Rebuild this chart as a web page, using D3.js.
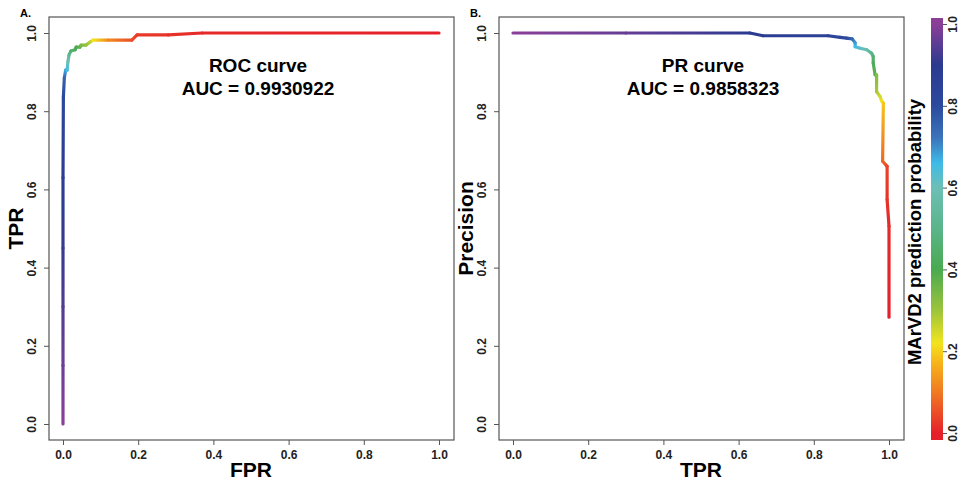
<!DOCTYPE html>
<html>
<head>
<meta charset="utf-8">
<script src="https://cdn.jsdelivr.net/npm/d3@7"></script>
<style>
  body { margin: 0; background: #fff; }
  svg { display: block; font-family: "Liberation Sans", Arial, sans-serif; }
  .tick text { font-weight: bold; font-size: 12px; fill: #222; }
</style>
</head>
<body>
<svg id="chart" width="964" height="482"></svg>
<script>
// ROC curve (FPR, TPR, threshold)
const rocFpr = [0, 0, 0, 0, 0, 0.001, 0.0035, 0.007, 0.011, 0.013, 0.016, 0.021, 0.032, 0.035, 0.045, 0.048, 0.061, 0.072, 0.080, 0.120, 0.183, 0.197, 0.280, 0.370, 1.0];
const rocTpr = [0, 0.15, 0.30, 0.45, 0.63, 0.836, 0.885, 0.905, 0.905, 0.926, 0.944, 0.954, 0.957, 0.964, 0.964, 0.969, 0.969, 0.977, 0.982, 0.982, 0.982, 0.995, 0.995, 1.0, 1.0];
const rocThr = [1.0, 0.97, 0.94, 0.91, 0.88, 0.82, 0.75, 0.68, 0.65, 0.60, 0.52, 0.46, 0.43, 0.40, 0.37, 0.34, 0.31, 0.27, 0.22, 0.12, 0.05, 0.03, 0.02, 0.01, 0.0];

// PR curve (recall, precision, threshold)
const prRecall = [0, 0.30, 0.630, 0.665, 0.838, 0.870, 0.887, 0.902, 0.910, 0.910, 0.923, 0.941, 0.954, 0.958, 0.958, 0.963, 0.967, 0.967, 0.976, 0.981, 0.985, 0.983, 0.995, 0.995, 1.0, 1.0];
const prPrecision = [1.0, 1.0, 1.0, 0.993, 0.993, 0.989, 0.987, 0.985, 0.975, 0.965, 0.961, 0.957, 0.948, 0.940, 0.923, 0.893, 0.893, 0.850, 0.838, 0.825, 0.821, 0.672, 0.659, 0.574, 0.506, 0.273];
const prThr = [1.0, 0.96, 0.90, 0.88, 0.85, 0.82, 0.80, 0.75, 0.69, 0.66, 0.62, 0.58, 0.50, 0.46, 0.42, 0.38, 0.33, 0.29, 0.25, 0.22, 0.19, 0.08, 0.04, 0.02, 0.01, 0.0];

const ticks = [0, 0.2, 0.4, 0.6, 0.8, 1.0];
const rocTitle = ["ROC curve", "AUC = 0.9930922"];
const prTitle = ["PR curve", "AUC = 0.9858323"];

// rainbow palette of the colour bar
const paletteStops = [0, 0.1, 0.17, 0.22, 0.3, 0.4, 0.5, 0.6, 0.66, 0.72, 0.8, 0.9, 1.0];
const paletteColors = ["#e5202a", "#f07a22", "#f7b21a", "#f2e41e", "#9cc43c", "#4aaa50", "#5ab58a", "#6dbfb5", "#3ebbe8", "#3b75bb", "#2c4a9e", "#2b3a8f", "#8b3f97"];
const color = d3.scaleLinear().domain(paletteStops).range(paletteColors).interpolate(d3.interpolateRgb);

const svg = d3.select('#chart');
const defs = svg.append('defs');
let gradId = 0;

function drawPanel(cfg) {
  const x = d3.scaleLinear().domain([0, 1]).range([cfg.x0, cfg.x0 + 376]);
  const y = d3.scaleLinear().domain([0, 1]).range([424, 33]);
  const g = svg.append('g');

  // frame
  g.append('rect')
    .attr('x', cfg.x0 - 14).attr('y', 17)
    .attr('width', 405).attr('height', 440 - 17)
    .attr('fill', 'none').attr('stroke', '#555').attr('stroke-width', 1.2);

  const xAxis = g.append('g')
    .attr('transform', 'translate(0,440)')
    .call(d3.axisBottom(x).tickValues(ticks).tickFormat(d3.format('.1f')).tickSize(5).tickPadding(5));
  xAxis.select('.domain').remove();
  xAxis.selectAll('line').attr('stroke', '#555');

  const yAxis = g.append('g')
    .attr('transform', 'translate(' + (cfg.x0 - 14) + ',0)')
    .call(d3.axisLeft(y).tickValues(ticks).tickFormat(d3.format('.1f')).tickSize(5).tickPadding(4));
  yAxis.select('.domain').remove();
  yAxis.selectAll('line').attr('stroke', '#555');
  yAxis.selectAll('text')
    .attr('text-anchor', 'middle')
    .attr('dy', 0)
    .attr('transform', 'translate(-13,0) rotate(-90)')
    .attr('x', 0).attr('y', 0);

  // curve, one segment at a time with a gradient between its thresholds
  const xs = cfg.xs, ys = cfg.ys, ts = cfg.ts;
  for (let i = 0; i < xs.length - 1; i++) {
    const x1 = x(xs[i]), y1 = y(ys[i]), x2 = x(xs[i + 1]), y2 = y(ys[i + 1]);
    const id = 'grad' + (gradId++);
    const grad = defs.append('linearGradient').attr('id', id)
      .attr('gradientUnits', 'userSpaceOnUse')
      .attr('x1', x1).attr('y1', y1).attr('x2', x2).attr('y2', y2);
    grad.append('stop').attr('offset', 0).attr('stop-color', color(ts[i]));
    grad.append('stop').attr('offset', 1).attr('stop-color', color(ts[i + 1]));
    g.append('line')
      .attr('x1', x1).attr('y1', y1).attr('x2', x2).attr('y2', y2)
      .attr('stroke', (x1 === x2 && y1 === y2) ? color(ts[i]) : 'url(#' + id + ')')
      .attr('stroke-width', 3.2)
      .attr('stroke-linecap', 'round');
  }

  // titles
  g.append('text').attr('x', cfg.x0 - 43).attr('y', 17)
    .attr('font-size', 11).attr('font-weight', 'bold').text(cfg.tag);
  cfg.title.forEach((t, k) => {
    g.append('text').attr('x', cfg.tx).attr('y', 72 + k * 23)
      .attr('text-anchor', 'middle').attr('font-size', 19).attr('font-weight', 'bold')
      .text(t);
  });
  g.append('text').attr('x', x(0.5)).attr('y', 477)
    .attr('text-anchor', 'middle').attr('font-size', 21).attr('font-weight', 'bold')
    .text(cfg.xlab);
  g.append('text')
    .attr('transform', 'translate(' + (cfg.x0 - 40) + ',' + y(0.5) + ') rotate(-90)')
    .attr('text-anchor', 'middle').attr('font-size', 21).attr('font-weight', 'bold')
    .text(cfg.ylab);
}

drawPanel({ x0: 63, xs: rocFpr, ys: rocTpr, ts: rocThr, tag: 'A.', title: rocTitle, tx: 258, xlab: 'FPR', ylab: 'TPR' });
drawPanel({ x0: 513, xs: prRecall, ys: prPrecision, ts: prThr, tag: 'B.', title: prTitle, tx: 703, xlab: 'TPR', ylab: 'Precision' });

// colour bar
const cb = d3.scaleLinear().domain([0, 1]).range([433, 24]);
const cbGrad = defs.append('linearGradient').attr('id', 'cbar')
  .attr('gradientUnits', 'userSpaceOnUse')
  .attr('x1', 0).attr('y1', cb(0)).attr('x2', 0).attr('y2', cb(1));
paletteStops.forEach((s, i) => {
  cbGrad.append('stop').attr('offset', s).attr('stop-color', paletteColors[i]);
});
svg.append('rect').attr('x', 931).attr('y', 18).attr('width', 12).attr('height', 422)
  .attr('fill', paletteColors[paletteColors.length - 1]);
svg.append('rect').attr('x', 931).attr('y', cb(0)).attr('width', 12).attr('height', 440 - cb(0))
  .attr('fill', paletteColors[0]);
svg.append('rect').attr('x', 931).attr('y', cb(1)).attr('width', 12).attr('height', cb(0) - cb(1))
  .attr('fill', 'url(#cbar)');

const cbAxis = svg.append('g')
  .attr('transform', 'translate(943,0)')
  .call(d3.axisRight(cb).tickValues(ticks).tickFormat(d3.format('.1f')).tickSize(4).tickPadding(4));
cbAxis.select('.domain').remove();
cbAxis.selectAll('line').attr('stroke', '#555');
cbAxis.selectAll('text')
  .attr('text-anchor', 'middle')
  .attr('dy', 0).attr('x', 0).attr('y', 0)
  .attr('transform', 'translate(14,0) rotate(-90)');

svg.append('text')
  .attr('transform', 'translate(921,232) rotate(-90)')
  .attr('text-anchor', 'middle').attr('font-size', 18.5).attr('font-weight', 'bold')
  .text('MArVD2 prediction probability');
</script>
</body>
</html>
